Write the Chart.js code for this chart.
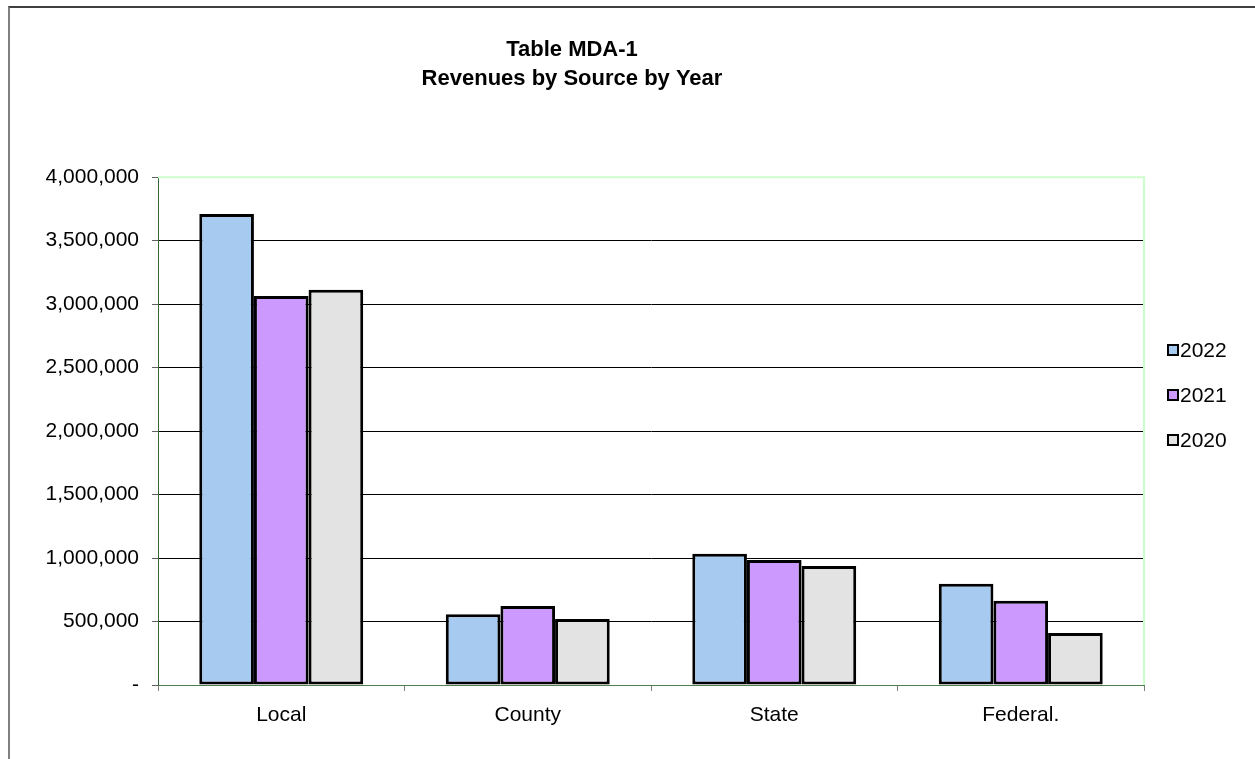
<!DOCTYPE html>
<html>
<head>
<meta charset="utf-8">
<title>Table MDA-1</title>
<script src="https://cdn.jsdelivr.net/npm/chart.js@4/dist/chart.umd.min.js"></script>
<style>
  html, body { margin: 0; padding: 0; background: #fff; }
  #wrap { position: relative; width: 1255px; height: 759px; overflow: hidden; }
  #frame { position: absolute; left: 8px; top: 6px; right: 0; bottom: 0;
           border-top: 2px solid #404040; border-left: 2px solid #808080; }
  #chart { position: absolute; left: 0; top: 0; }
  #legend { position: absolute; left: 1167px; top: 338px; font-family: "Liberation Sans", Arial, sans-serif;
            font-size: 21px; color: #000; }
  #legend .item { height: 45px; line-height: 24px; white-space: nowrap; }
  #legend .box { display: inline-block; width: 8px; height: 8px; border: 2px solid #000;
                 margin-right: 1px; vertical-align: 1px; }
</style>
</head>
<body>
<div id="wrap">
  <div id="frame"></div>
  <canvas id="chart" width="1255" height="759"></canvas>
  <div id="legend"></div>
</div>
<script>
var categories = ["Local", "County", "State", "Federal."];
var seriesNames = ["2022", "2021", "2020"];
var values2022 = [3710000, 558000, 1034000, 797000];
var values2021 = [3065000, 623000, 984000, 663000];
var values2020 = [3113000, 519000, 937000, 409000];
var yTicks = [0, 500000, 1000000, 1500000, 2000000, 2500000, 3000000, 3500000, 4000000];

var colors = ['#A6CAF0', '#CC99FF', '#E3E3E3'];
var seriesValues = [values2022, values2021, values2020];
var FONT = '"Liberation Sans", Arial, sans-serif';

// top and right edge of the plot area in light green
var plotEdge = {
    id: 'plotEdge',
    afterDraw: function (chart) {
        var a = chart.chartArea, ctx = chart.ctx;
        ctx.save();
        ctx.strokeStyle = '#CCFFCC';
        ctx.lineWidth = 2;
        ctx.beginPath();
        ctx.moveTo(a.left, a.top);
        ctx.lineTo(a.right, a.top);
        ctx.lineTo(a.right, a.bottom);
        ctx.stroke();
        ctx.restore();
    }
};

var datasets = [];
for (var i = 0; i < seriesNames.length; i++) {
    datasets.push({
        label: seriesNames[i],
        data: seriesValues[i],
        backgroundColor: colors[i],
        borderColor: '#000',
        borderWidth: 3,
        borderSkipped: false,
        categoryPercentage: 0.665,
        barPercentage: 1.0
    });
}

var ctx = document.getElementById('chart');
var chart = new Chart(ctx, {
    type: 'bar',
    data: { labels: categories, datasets: datasets },
    plugins: [plotEdge],
    options: {
        responsive: false,
        animation: false,
        devicePixelRatio: 1,
        layout: { padding: { left: 0, right: 111, top: 0, bottom: 0 } },
        plugins: {
            legend: { display: false },
            tooltip: { enabled: false },
            title: {
                display: true,
                text: ['Table MDA-1', 'Revenues by Source by Year'],
                color: '#000',
                font: { family: FONT, size: 22, weight: 'bold', lineHeight: 1.3 },
                padding: { top: 36, bottom: 84 }
            }
        },
        scales: {
            x: {
                grid: { display: true, drawOnChartArea: false, tickLength: 6, tickColor: '#808080' },
                border: { display: true, color: '#4F7F4F', width: 1 },
                ticks: { color: '#000', font: { family: FONT, size: 21 }, padding: 12 },
                afterFit: function (s) { s.height = 74; }
            },
            y: {
                min: 0,
                max: 4000000,
                afterBuildTicks: function (s) {
                    s.ticks = yTicks.map(function (v) { return { value: v }; });
                },
                grid: {
                    color: function (c) { return c.tick && c.tick.value === 4000000 ? '#CCFFCC' : '#000'; },
                    lineWidth: 1,
                    tickLength: 6,
                    tickColor: '#606060'
                },
                border: { display: true, color: '#336633', width: 1 },
                ticks: {
                    color: '#000',
                    font: { family: FONT, size: 21 },
                    padding: 13,
                    callback: function (v) { return v === 0 ? '-' : Number(v).toLocaleString('en-US'); }
                },
                afterFit: function (s) { s.width = 158; }
            }
        }
    }
});

var legend = document.getElementById('legend');
for (var j = 0; j < seriesNames.length; j++) {
    var row = document.createElement('div');
    row.className = 'item';
    var box = document.createElement('span');
    box.className = 'box';
    box.style.background = colors[j];
    row.appendChild(box);
    row.appendChild(document.createTextNode(seriesNames[j]));
    legend.appendChild(row);
}
</script>
</body>
</html>
